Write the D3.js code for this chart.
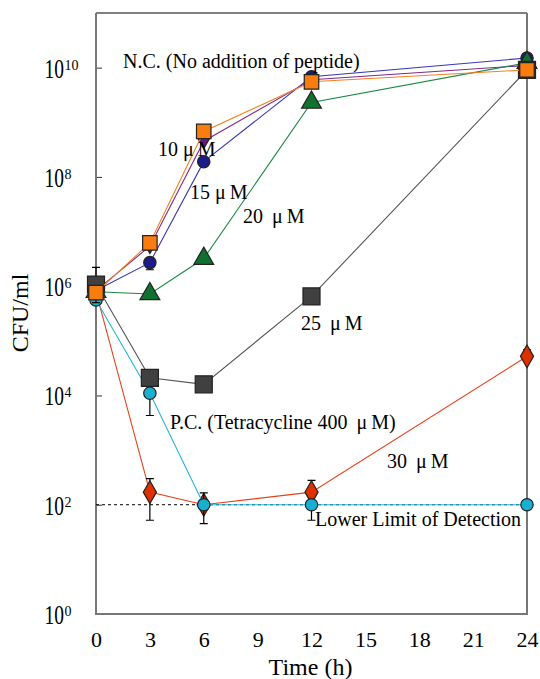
<!DOCTYPE html>
<html>
<head>
<meta charset="utf-8">
<script src="https://cdn.jsdelivr.net/npm/d3@7"></script>
<style>
  body { margin: 0; background: #fff; }
  text { font-family: "Liberation Serif", "Times New Roman", serif; fill: #000; }
</style>
</head>
<body>
<svg id="chart" width="540" height="679"></svg>
<script>
// time points (h)
const hours = [0, 3, 6, 12, 24];
// CFU/ml
const ncVals = [8.3e5, 5.4e6, 4.5e8, 6.0e9, 1.1e10];
const p10Vals = [7.6e5, 6.2e6, 6.8e8, 5.5e9, 9.1e9];
const p15Vals = [8.3e5, 2.7e6, 1.9e8, 6.8e9, 1.5e10];
const p20Vals = [7.9e5, 7.2e5, 3.2e6, 2.3e9, 1.23e10];
const p25Vals = [1.07e6, 2.1e4, 1.6e4, 6.5e5, 9.1e9];
const p30Vals = [7.9e5, 170, 100, 170, 5.2e4];
const pcVals = [5.6e5, 1.1e4, 100, 100, 100];
// error bars [time, low, high]
const p15Err = [[3, 2.0e6, 3.3e6]];
const p25Err = [[0, 5.0e5, 2.2e6]];
const p30Err = [[3, 52, 300], [12, 52, 280], [24, 4.2e4, 6.8e4]];
const pcErr = [[0, 4.6e5, 7e5], [3, 4.3e3, 1.8e4], [6, 45, 165]];
const yTicks = [1e0, 1e2, 1e4, 1e6, 1e8, 1e10];
const xTicks = [0, 3, 6, 9, 12, 15, 18, 21, 24];
const detectionLimit = 100;

const series = [
  { name: "30", vals: p30Vals, err: p30Err, color: "#e8401c", fill: "#e03000", shape: d3.symbolDiamond, size: 150 },
  { name: "PC", vals: pcVals, err: pcErr, color: "#25b6d8", fill: "#1aafd0", shape: d3.symbolCircle, size: 120 },
  { name: "15", vals: p15Vals, err: p15Err, color: "#3a36b8", fill: "#1d1a8a", shape: d3.symbolCircle, size: 120 },
  { name: "NC", vals: ncVals, err: [], color: "#7f2a8e", fill: "#6a1a7a", shape: "tri-down", size: 70 },
  { name: "20", vals: p20Vals, err: [], color: "#1a8a40", fill: "#0f7030", shape: d3.symbolTriangle, size: 170 },
  { name: "25", vals: p25Vals, err: p25Err, color: "#555", fill: "#404040", shape: d3.symbolSquare, size: 290 },
  { name: "10", vals: p10Vals, err: [], color: "#f5801c", fill: "#f87c10", shape: d3.symbolSquare, size: 210 }
];

const labels = [
  { text: "N.C. (No addition of peptide)", x: 123, y: 68 },
  { text: "10 \u03bc\u2009M", x: 158, y: 156 },
  { text: "15 \u03bc\u2009M", x: 190, y: 199 },
  { text: "20 \u2009\u03bc\u2009M", x: 243, y: 223 },
  { text: "25 \u2009\u03bc\u2009M", x: 301, y: 330 },
  { text: "P.C. (Tetracycline 400 \u2009\u03bc\u2009M)", x: 170, y: 429 },
  { text: "30 \u2009\u03bc\u2009M", x: 387, y: 468 },
  { text: "Lower Limit of Detection", x: 315, y: 526 }
];

const svg = d3.select("#chart");
const plotL = 96, plotR = 527, plotT = 13, plotB = 614;

const x = d3.scaleLinear().domain([0, 24]).range([plotL, plotR]);
const y = d3.scaleLog().domain([1, 1e11]).range([plotB, plotT]);

// y axis ticks (inward) with superscript labels
const yAxis = svg.append("g")
  .attr("transform", `translate(${plotL},0)`)
  .call(d3.axisLeft(y).tickValues(yTicks).tickSizeInner(-6).tickSizeOuter(0).tickFormat(""));
yAxis.select(".domain").remove();
yAxis.selectAll(".tick text").remove();
yAxis.selectAll(".tick line").attr("stroke", "#333");
yAxis.selectAll(".tick").each(function (d) {
  const tick = d3.select(this);
  tick.append("text")
    .attr("transform", "translate(-32,9.5) scale(0.72,1)")
    .attr("text-anchor", "end")
    .style("font-size", "27px")
    .text("10");
  tick.append("text")
    .attr("x", -31.5).attr("y", 1.5)
    .attr("text-anchor", "start")
    .style("font-size", "14px")
    .text(Math.round(Math.log10(d)));
});

// x axis labels, no ticks
const xAxis = svg.append("g")
  .attr("transform", `translate(0,${plotB})`)
  .call(d3.axisBottom(x).tickValues(xTicks).tickSize(0).tickPadding(17));
xAxis.select(".domain").remove();
xAxis.selectAll("text")
  .style("font-size", "22px")
  .style("font-family", "Liberation Serif, serif")
  .attr("fill", "#000");

// frame
svg.append("line").attr("x1", plotL).attr("x2", plotR).attr("y1", plotT).attr("y2", plotT)
  .attr("stroke", "#000").attr("stroke-width", 1);
svg.append("path")
  .attr("d", `M${plotL},${plotT}V${plotB}H${plotR}V${plotT}`)
  .attr("fill", "none").attr("stroke", "#777").attr("stroke-width", 2);

// axis titles
svg.append("text")
  .attr("x", (plotL + plotR) / 2 - 1).attr("y", 675)
  .attr("text-anchor", "middle")
  .style("font-size", "24px")
  .text("Time (h)");
svg.append("text")
  .attr("transform", "translate(28,313) rotate(-90)")
  .attr("text-anchor", "middle")
  .style("font-size", "24px")
  .text("CFU/ml");

// detection limit
svg.append("line")
  .attr("x1", plotL).attr("x2", plotR)
  .attr("y1", y(detectionLimit)).attr("y2", y(detectionLimit))
  .attr("stroke", "#000").attr("stroke-width", 1)
  .attr("stroke-dasharray", "3,3");

const line = d3.line().x(d => x(d[0])).y(d => y(d[1]));

series.forEach(s => {
  const g = svg.append("g").attr("class", "series-" + s.name);
  const pts = hours.map((h, i) => [h, s.vals[i]]);
  g.append("path")
    .attr("d", line(pts))
    .attr("fill", "none")
    .attr("stroke", s.color)
    .attr("stroke-width", 1.1);
  s.err.forEach(([t, lo, hi]) => {
    const xx = x(t);
    g.append("path")
      .attr("d", `M${xx},${y(lo)}V${y(hi)}M${xx - 4},${y(lo)}H${xx + 4}M${xx - 4},${y(hi)}H${xx + 4}`)
      .attr("stroke", "#000").attr("stroke-width", 1.2).attr("fill", "none");
  });
  const sym = s.shape === "tri-down"
    ? d3.symbol().type(d3.symbolTriangle).size(s.size)
    : d3.symbol().type(s.shape).size(s.size);
  g.selectAll(".pt").data(pts).join("path")
    .attr("class", "pt")
    .attr("d", sym())
    .attr("transform", d => `translate(${x(d[0])},${y(d[1])})` + (s.shape === "tri-down" ? " rotate(180)" : ""))
    .attr("fill", s.fill)
    .attr("stroke", "#222")
    .attr("stroke-width", 1.2);
});

// annotations
svg.append("g").selectAll("text").data(labels).join("text")
  .attr("x", d => d.x).attr("y", d => d.y)
  .style("font-size", "20px")
  .text(d => d.text);
</script>
</body>
</html>
